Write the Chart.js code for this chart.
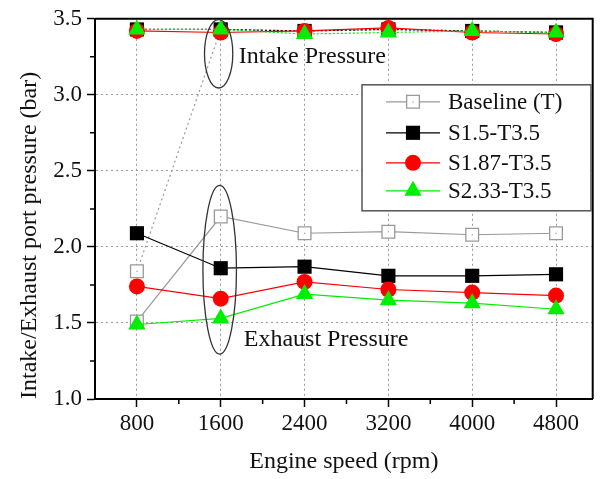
<!DOCTYPE html>
<html><head><meta charset="utf-8">
<script src="https://cdn.jsdelivr.net/npm/chart.js@4"></script>
<style>html,body{margin:0;padding:0;background:#fff}#wrap{width:603px;height:479px;position:relative}</style>
</head><body><div id="wrap"><canvas id="c"></canvas></div>
<script>
// ---- data ----
const engineSpeed = [800, 1600, 2400, 3200, 4000, 4800];
const xTicks = [800, 1600, 2400, 3200, 4000, 4800];
const xMinorTicks = [1200, 2000, 2800, 3600, 4400];
const yTicks = [1.0, 1.5, 2.0, 2.5, 3.0, 3.5];
const yMinorTicks = [1.25, 1.75, 2.25, 2.75, 3.25];
const seriesNames = ['Baseline (T)', 'S1.5-T3.5', 'S1.87-T3.5', 'S2.33-T3.5'];
const baselineIntake = [1.84, 3.43, 3.42, 3.43, 3.42, 3.41];
const baselineExhaust = [1.51, 2.20, 2.09, 2.10, 2.08, 2.09];
const s15Intake = [3.43, 3.43, 3.42, 3.43, 3.42, 3.41];
const s15Exhaust = [2.09, 1.86, 1.87, 1.81, 1.81, 1.82];
const s187Intake = [3.42, 3.41, 3.42, 3.44, 3.41, 3.40];
const s187Exhaust = [1.74, 1.66, 1.77, 1.72, 1.70, 1.68];
const s233Intake = [3.43, 3.43, 3.40, 3.41, 3.42, 3.41];
const s233Exhaust = [1.49, 1.53, 1.69, 1.65, 1.63, 1.59];
const annotationTexts = ['Intake Pressure', 'Exhaust Pressure'];
const xTitle = 'Engine speed (rpm)';
const yTitle = 'Intake/Exhaust port pressure (bar)';

// ---- styles ----
const FONT = "'Liberation Serif', 'Times New Roman', serif";
const styles = [
  {color: '#999999', fill: '#ffffff', shape: 'rect', radius: 9, intakeDash: [2, 3]},
  {color: '#000000', fill: '#000000', shape: 'rect', radius: 10, intakeDash: [2, 2]},
  {color: '#ff0000', fill: '#ff0000', shape: 'circle', radius: 8, intakeDash: []},
  {color: '#00ee00', fill: '#00ee00', shape: 'triangle', radius: 10, intakeDash: [2, 2]}
];
const intakeSets = [baselineIntake, s15Intake, s187Intake, s233Intake];
const exhaustSets = [baselineExhaust, s15Exhaust, s187Exhaust, s233Exhaust];
const pts = arr => engineSpeed.map((x, i) => ({x: x, y: arr[i]}));

const datasets = [];
seriesNames.forEach((name, k) => {
  const st = styles[k];
  const common = {
    borderColor: st.color, backgroundColor: st.fill, pointBackgroundColor: st.fill,
    pointBorderColor: st.color, pointBorderWidth: k === 0 ? 1.3 : 0,
    pointStyle: st.shape, pointRadius: st.radius, pointHoverRadius: st.radius,
    borderWidth: 1.2, tension: 0, fill: false, clip: false, order: 4 - k
  };
  datasets.push(Object.assign({label: name + ' intake', data: pts(intakeSets[k]), borderDash: st.intakeDash}, common));
  datasets.push(Object.assign({label: name, data: pts(exhaustSets[k]), borderDash: []}, common));
});

function drawMarker(ctx, shape, x, y, r, fill, stroke, bw) {
  ctx.save();
  ctx.setLineDash([]);
  ctx.beginPath();
  if (shape === 'rect') {
    const s = r * Math.SQRT1_2;
    ctx.rect(x - s, y - s, 2 * s, 2 * s);
  } else if (shape === 'circle') {
    ctx.arc(x, y, r, 0, Math.PI * 2);
  } else {
    const w = r * Math.sqrt(3) / 2;
    ctx.moveTo(x, y - r);
    ctx.lineTo(x + w, y + r / 2);
    ctx.lineTo(x - w, y + r / 2);
    ctx.closePath();
  }
  ctx.fillStyle = fill; ctx.fill();
  if (bw > 0) { ctx.lineWidth = bw; ctx.strokeStyle = stroke; ctx.stroke(); }
  ctx.restore();
}

const decorPlugin = {
  id: 'decor',
  beforeDatasetsDraw(chart) {
    const {ctx, chartArea: a, scales: {x, y}} = chart;
    ctx.save();
    ctx.strokeStyle = '#000'; ctx.lineWidth = 2;
    ctx.beginPath();
    ctx.moveTo(a.left, a.top); ctx.lineTo(a.right, a.top); ctx.lineTo(a.right, a.bottom);
    ctx.stroke();
    ctx.lineWidth = 1.5;
    ctx.beginPath();
    xMinorTicks.forEach(v => { const px = x.getPixelForValue(v); ctx.moveTo(px, a.bottom); ctx.lineTo(px, a.bottom + 5); });
    yMinorTicks.forEach(v => { const py = y.getPixelForValue(v); ctx.moveTo(a.left, py); ctx.lineTo(a.left - 5, py); });
    ctx.stroke();
    ctx.restore();
  },
  afterDatasetsDraw(chart) {
    const {ctx, chartArea: a, scales: {x, y}} = chart;
    ctx.save();
    ctx.fillStyle = '#999';
    [baselineIntake, baselineExhaust].forEach(arr => arr.forEach((v, i) => {
      ctx.fillRect(x.getPixelForValue(engineSpeed[i]) - 0.5, y.getPixelForValue(v) - 0.5, 1.2, 1.2);
    }));
    ctx.strokeStyle = '#333'; ctx.lineWidth = 1.3; ctx.setLineDash([]);
    const ell = (cx, cy, rxv, ryv) => {
      const px = x.getPixelForValue(cx), py = y.getPixelForValue(cy);
      const rx = Math.abs(x.getPixelForValue(cx + rxv) - px);
      const ry = Math.abs(y.getPixelForValue(cy + ryv) - py);
      ctx.beginPath(); ctx.ellipse(px, py, rx, ry, 0, 0, Math.PI * 2); ctx.stroke();
    };
    ell(1580, 3.27, 135, 0.225);
    ell(1590, 1.85, 160, 0.555);
    ctx.fillStyle = '#111'; ctx.font = '24px ' + FONT; ctx.textBaseline = 'middle'; ctx.textAlign = 'left';
    ctx.fillText(annotationTexts[0], x.getPixelForValue(1600) + 18, y.getPixelForValue(3.25));
    ctx.fillText(annotationTexts[1], x.getPixelForValue(1600) + 23, y.getPixelForValue(1.39));
    const lx = a.left + 267, ly = a.top + 66, lw = 229, lh = 126;
    ctx.fillStyle = '#fff'; ctx.fillRect(lx, ly, lw, lh);
    ctx.strokeStyle = '#555'; ctx.lineWidth = 1.5; ctx.strokeRect(lx, ly, lw, lh);
    const rows = [17, 48, 78, 106];
    seriesNames.forEach((name, k) => {
      const st = styles[k];
      const ry = ly + rows[k];
      ctx.strokeStyle = st.color; ctx.lineWidth = 1.2; ctx.setLineDash([]);
      ctx.beginPath(); ctx.moveTo(lx + 24, ry); ctx.lineTo(lx + 78, ry); ctx.stroke();
      drawMarker(ctx, st.shape, lx + 51, ry, st.radius, st.fill, st.color, k === 0 ? 1.3 : 0);
      if (k === 0) { ctx.fillStyle = '#999'; ctx.fillRect(lx + 50.5, ry - 0.5, 1.2, 1.2); }
      ctx.fillStyle = '#111'; ctx.font = '23px ' + FONT; ctx.textAlign = 'left'; ctx.textBaseline = 'middle';
      ctx.fillText(name, lx + 86, ry + 1);
    });
    ctx.restore();
  }
};

new Chart(document.getElementById('c'), {
  type: 'line',
  data: {datasets: datasets},
  options: {
    responsive: true, maintainAspectRatio: false, animation: false,
    layout: {padding: {left: 0, top: 17, right: 3, bottom: 0}},
    plugins: {legend: {display: false}, tooltip: {enabled: false}},
    scales: {
      x: {
        type: 'linear', min: 400, max: 5150,
        afterBuildTicks: s => { s.ticks = xTicks.map(v => ({value: v})); },
        afterFit: s => { s.height = 80; },
        ticks: {color: '#111', font: {family: FONT, size: 23}, padding: 3, maxRotation: 0, autoSkip: false,
                callback: v => String(v)},
        grid: {color: '#9a9a9a', lineWidth: 1, drawTicks: true, tickLength: 8, tickColor: '#000', tickWidth: 1.5},
        border: {display: true, color: '#000', width: 2, dash: [2, 3]},
        title: {display: true, text: xTitle, color: '#111', font: {family: FONT, size: 24}, padding: {top: 0, bottom: 3}}
      },
      y: {
        type: 'linear', min: 1.0, max: 3.5,
        afterBuildTicks: s => { s.ticks = yTicks.map(v => ({value: v})); },
        afterFit: s => { s.width = 95; },
        ticks: {color: '#111', font: {family: FONT, size: 23}, padding: 5, callback: v => Number(v).toFixed(1)},
        grid: {color: '#9a9a9a', lineWidth: 1, drawTicks: true, tickLength: 8, tickColor: '#000', tickWidth: 1.5},
        border: {display: true, color: '#000', width: 2, dash: [2, 3]},
        title: {display: true, text: yTitle, align: 'start', color: '#111', font: {family: FONT, size: 24}, padding: {top: 15, bottom: 0}}
      }
    }
  },
  plugins: [decorPlugin]
});
</script></body></html>
